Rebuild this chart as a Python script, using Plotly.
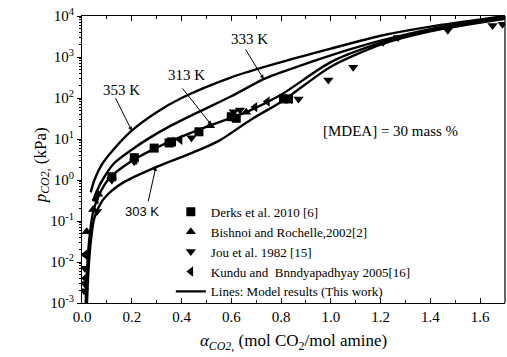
import plotly.graph_objects as go
import numpy as np

# Model curves (loading alpha, partial pressure kPa) per temperature
alpha_353 = [0.035, 0.05, 0.08, 0.125, 0.2, 0.3, 0.4, 0.6, 0.8, 1.0, 1.2, 1.4, 1.7]
p_353 = [0.5, 1.0, 2.4, 5.4, 16, 45, 100, 320, 750, 1600, 3300, 5500, 10000]

alpha_333 = [0.045, 0.06, 0.09, 0.13, 0.2, 0.27, 0.35, 0.47, 0.6, 0.73, 0.8, 1.0, 1.2, 1.4, 1.7]
p_333 = [0.3, 0.55, 1.2, 2.6, 5.5, 10.5, 20, 46, 110, 290, 420, 1100, 2500, 4800, 9500]

alpha_313 = [0.015, 0.02, 0.03, 0.045, 0.07, 0.11, 0.2, 0.33, 0.52, 0.67, 0.8, 1.0, 1.2, 1.4, 1.7]
p_313 = [0.001, 0.006, 0.04, 0.17, 0.45, 1.1, 2.9, 7.5, 22, 48, 120, 750, 2200, 4500, 9000]

alpha_303 = [0.02, 0.025, 0.035, 0.05, 0.08, 0.12, 0.17, 0.3, 0.45, 0.55, 0.68, 0.8, 0.9, 1.0, 1.2, 1.4, 1.7]
p_303 = [0.001, 0.005, 0.03, 0.12, 0.3, 0.55, 0.9, 2.1, 4.8, 9, 30, 80, 220, 580, 2000, 4200, 8500]

# Experimental data
derks_alpha = [0.12, 0.21, 0.29, 0.35, 0.36, 0.47, 0.60, 0.62, 0.81, 0.83]
derks_p = [1.2, 3.5, 6.0, 8.0, 8.5, 15, 35, 32, 95, 95]

bishnoi_alpha = [0.019, 0.045, 0.065, 0.515, 0.66]
bishnoi_p = [0.055, 0.19, 0.45, 21, 45]

jou_alpha = [0.008, 0.010, 0.012, 0.06, 0.12, 0.21, 0.44, 0.61, 0.635, 0.87, 0.99, 1.09,
             1.21, 1.27, 1.47, 1.65, 1.69]
jou_p = [0.002, 0.003, 0.007, 0.17, 1.0, 2.8, 10.7, 46, 51, 95, 275, 565,
         2300, 3000, 4500, 5900, 6300]

kundu_alpha = [0.012, 0.013, 0.057, 0.115, 0.213, 0.36, 0.394, 0.695, 0.745, 0.835]
kundu_p = [0.015, 0.004, 0.34, 1.1, 3.1, 8.6, 9.6, 60, 82, 95]

x_ticks = [0.0, 0.2, 0.4, 0.6, 0.8, 1.0, 1.2, 1.4, 1.6]
y_exps = [-3, -2, -1, 0, 1, 2, 3, 4]

SERIF = "Times New Roman, Liberation Serif, DejaVu Serif, serif"
SANS = "Arial, Liberation Sans, sans-serif"

fig = go.Figure()

for a, p in [(alpha_353, p_353), (alpha_333, p_333), (alpha_313, p_313), (alpha_303, p_303)]:
    fig.add_trace(go.Scatter(x=a, y=p, mode="lines",
                             line=dict(color="black", width=2.4, shape="spline", smoothing=0.8),
                             showlegend=False, hoverinfo="skip"))

mk = dict(color="black", size=9, line=dict(width=0))
fig.add_trace(go.Scatter(x=derks_alpha, y=derks_p, mode="markers", name="Derks et al. 2010 [6]",
                         marker=dict(symbol="square", **mk)))
fig.add_trace(go.Scatter(x=bishnoi_alpha, y=bishnoi_p, mode="markers", name="Bishnoi and Rochelle,2002[2]",
                         marker=dict(symbol="triangle-up", **mk)))
fig.add_trace(go.Scatter(x=jou_alpha, y=jou_p, mode="markers", name="Jou et al. 1982 [15]",
                         marker=dict(symbol="triangle-down", **mk)))
fig.add_trace(go.Scatter(x=kundu_alpha, y=kundu_p, mode="markers", name="Kundu and  Bnndyapadhyay 2005[16]",
                         marker=dict(symbol="triangle-left", **mk)))
fig.add_trace(go.Scatter(x=[None], y=[None], mode="lines", name="Lines: Model results (This work)",
                         line=dict(color="black", width=2.4)))

minor_y = [m * 10.0 ** e for e in range(-3, 4) for m in range(2, 10)]

fig.update_layout(
    width=507, height=357,
    margin=dict(l=82, r=2, t=16, b=54),
    paper_bgcolor="white", plot_bgcolor="white",
    font=dict(family=SERIF, color="black", size=14),
    showlegend=True,
    legend=dict(x=0.21, y=0.37, xanchor="left", yanchor="top", bgcolor="rgba(0,0,0,0)",
                font=dict(family=SERIF, size=13, color="black"), tracegroupgap=0),
    xaxis=dict(range=[0, 1.7], tickvals=x_ticks, ticktext=[f"{v:.1f}" for v in x_ticks],
               ticks="inside", ticklen=5, tickwidth=1, tickcolor="black",
               showline=True, linecolor="black", linewidth=1.2, mirror="allticks",
               showgrid=False, zeroline=False, tickfont=dict(family=SERIF, size=15),
               minor=dict(tickvals=[0.1, 0.3, 0.5, 0.7, 0.9, 1.1, 1.3, 1.5, 1.7], ticks="inside",
                          ticklen=3, tickcolor="black"),
               title=dict(text="<i>α</i><sub><i>CO2</i>,</sub> (mol CO<sub>2</sub>/mol amine)",
                          font=dict(family=SERIF, size=17), standoff=10)),
    yaxis=dict(type="log", range=[-3, 4], tickvals=[10.0 ** e for e in y_exps],
               ticktext=[f"10<sup>{e}</sup>" for e in y_exps],
               ticks="outside", ticklen=4, tickwidth=1, tickcolor="black",
               showline=True, linecolor="black", linewidth=1.2, mirror=False,
               showgrid=False, zeroline=False, tickfont=dict(family=SERIF, size=15),
               minor=dict(tickvals=minor_y, ticks="outside", ticklen=2, tickcolor="black")),
)

# y-axis title, placed close to the tick labels
fig.add_annotation(xref="paper", yref="paper", x=-0.125, y=0.48, textangle=-90, showarrow=False,
                   text="<i>p</i><sub><i>CO2</i>,</sub> (kPa)", font=dict(family=SERIF, size=17))

# right frame edge
fig.add_shape(type="line", xref="paper", yref="paper", x0=1, x1=1, y0=0, y1=1,
              line=dict(color="black", width=1.2))

# arrows from temperature labels to their curves
arrows = [
    (0.2, 16, -17, -34),
    (0.52, 22, -30, -38),
    (0.73, 290, -19, -31),
    (0.297, 2.1, -8, 36),
]
for ax_, py, dx, dy in arrows:
    fig.add_annotation(x=ax_, y=np.log10(py), ax=dx, ay=dy, text="", showarrow=True,
                       arrowhead=2, arrowsize=0.8, arrowwidth=1, arrowcolor="black")

fig.add_annotation(x=0.157, y=2.2, text="353 K", showarrow=False, font=dict(family=SERIF, size=15))
fig.add_annotation(x=0.42, y=2.55, text="313 K", showarrow=False, font=dict(family=SERIF, size=15))
fig.add_annotation(x=0.675, y=3.45, text="333 K", showarrow=False, font=dict(family=SERIF, size=15))
fig.add_annotation(x=0.24, y=-0.78, text="303 K", showarrow=False, font=dict(family=SANS, size=13))
fig.add_annotation(x=1.24, y=1.2, text="[MDEA] = 30 mass %", showarrow=False,
                   font=dict(family=SERIF, size=15))

fig.write_html("out.html")
